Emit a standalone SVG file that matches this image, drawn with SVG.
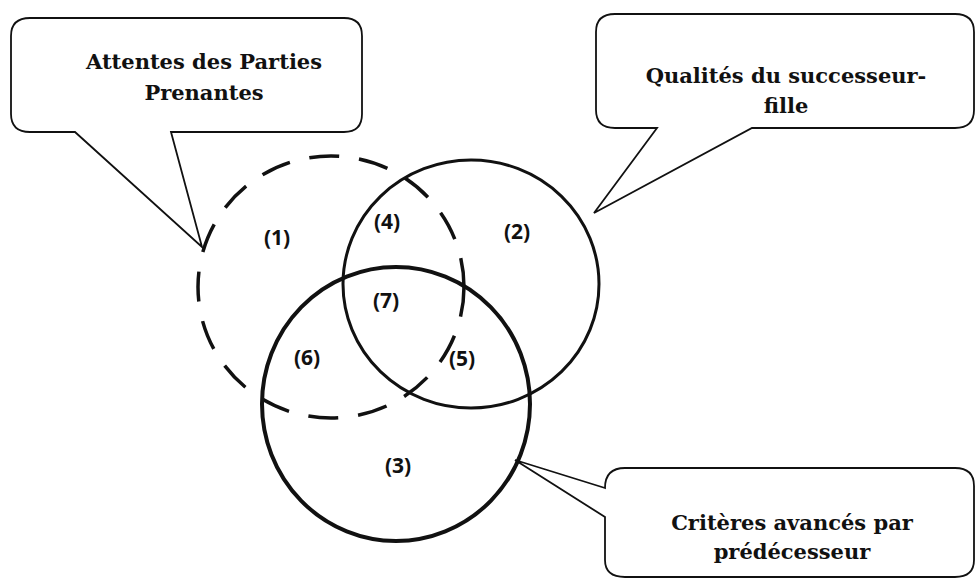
<svg xmlns="http://www.w3.org/2000/svg" width="976" height="579" viewBox="0 0 976 579">
<style>
.callout{fill:#fff;stroke:#111;stroke-width:1.8;stroke-linejoin:miter}
.ctext{font-family:"DejaVu Serif","Liberation Serif",serif;font-weight:bold;font-size:21px;fill:#111;text-anchor:middle}
.num{font-family:"Open Sans","Liberation Sans",sans-serif;font-weight:bold;font-size:21px;fill:#111;text-anchor:middle}
.set{fill:none;stroke:#111}
</style>
<rect width="976" height="579" fill="#fff"/>
<g id="connectors">
</g>
<g id="set1">
<ellipse class="set" cx="331" cy="287" rx="133" ry="131" stroke-width="3.5" stroke-dasharray="30 20"/>
</g>
<g id="set2">
<ellipse class="set" cx="471" cy="284" rx="128" ry="124" stroke-width="3"/>
</g>
<g id="set3">
<ellipse class="set" cx="396" cy="404" rx="134" ry="137" stroke-width="4"/>
</g>
<g id="labels">
<text class="num" x="277" y="245">(1)</text>
<text class="num" x="387" y="229">(4)</text>
<text class="num" x="517" y="239">(2)</text>
<text class="num" x="386" y="308">(7)</text>
<text class="num" x="307" y="365">(6)</text>
<text class="num" x="462" y="366">(5)</text>
<text class="num" x="398" y="473">(3)</text>
</g>
<g id="callout1">
<path class="callout" d="M171 132 L202 247 L75 132 L30 132 Q11 132 11 114 L11 36 Q11 18 30 18 L344 18 Q362 18 362 36 L362 114 Q362 132 344 132 Z"/>
<text class="ctext" x="204" y="69">Attentes des Parties</text>
<text class="ctext" x="204" y="100">Prenantes</text>
</g>
<g id="callout2">
<path class="callout" d="M657 128 L594 213 L752 128 L955 128 Q974 128 974 110 L974 32 Q974 14 955 14 L615 14 Q596 14 596 32 L596 110 Q596 128 615 128 Z"/>
<text class="ctext" x="786" y="83">Qualités du successeur-</text>
<text class="ctext" x="786" y="113">fille</text>
</g>
<g id="callout3">
<path class="callout" d="M605 488 L515 460 L605 517 L605 560 Q605 577 625 577 L955 577 Q974 577 974 560 L974 486 Q974 468 955 468 L625 468 Q605 468 605 488 Z"/>
<text class="ctext" x="792" y="530">Critères avancés par</text>
<text class="ctext" x="792" y="559">prédécesseur</text>
</g>
</svg>
